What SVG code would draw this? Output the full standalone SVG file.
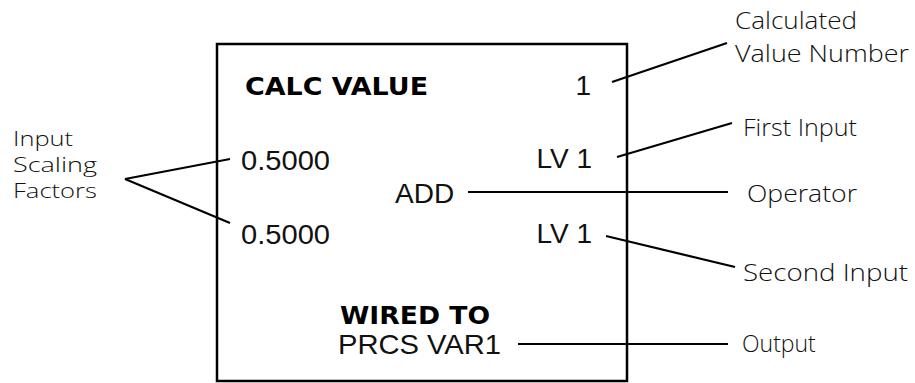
<svg xmlns="http://www.w3.org/2000/svg" width="915" height="383" viewBox="0 0 915 383">
<style>
.box{fill:none;stroke:#000;stroke-width:2.5}
.ln{stroke:#000;stroke-width:2.2;fill:none;stroke-linecap:butt}
.t{font-family:"Liberation Sans",Arial,sans-serif;font-size:28px;fill:#111}
.b{font-family:"DejaVu Sans","Liberation Sans",sans-serif;font-weight:bold;font-size:25px;fill:#000}
.l{font-family:"Open Sans","DejaVu Sans",sans-serif;font-weight:300;font-size:23px;fill:#111}
.s{font-size:21px}
</style>
<rect width="915" height="383" fill="#fff"/>
<g id="display">
<rect class="box" x="217" y="44" width="410" height="337"/>
<text class="b" x="245" y="95" textLength="183" lengthAdjust="spacingAndGlyphs">CALC VALUE</text>
<text class="t" x="591" y="95" text-anchor="end">1</text>
<text class="t" x="241" y="170" textLength="89" lengthAdjust="spacingAndGlyphs">0.5000</text>
<text class="t" x="592" y="168" text-anchor="end">LV 1</text>
<text class="t" x="395" y="203">ADD</text>
<text class="t" x="241" y="244" textLength="89" lengthAdjust="spacingAndGlyphs">0.5000</text>
<text class="t" x="592" y="243" text-anchor="end">LV 1</text>
<text class="b" x="340" y="324" textLength="150" lengthAdjust="spacingAndGlyphs">WIRED TO</text>
<text class="t" x="338" y="354" textLength="163" lengthAdjust="spacingAndGlyphs">PRCS VAR1</text>
</g>
<g id="label-calc-number">
<text class="l" x="735" y="29" textLength="122" lengthAdjust="spacingAndGlyphs">Calculated</text>
<text class="l" x="735" y="62" textLength="174" lengthAdjust="spacingAndGlyphs">Value Number</text>
</g>
<g id="label-first-input"><text class="l" x="743" y="136" textLength="114" lengthAdjust="spacingAndGlyphs">First Input</text></g>
<g id="label-operator"><text class="l" x="747" y="202" textLength="110" lengthAdjust="spacingAndGlyphs">Operator</text></g>
<g id="label-second-input"><text class="l" x="743" y="281" textLength="165" lengthAdjust="spacingAndGlyphs">Second Input</text></g>
<g id="label-output"><text class="l" x="742" y="352">Output</text></g>
<g id="label-scaling">
<text class="l s" x="13" y="146" textLength="60" lengthAdjust="spacingAndGlyphs">Input</text>
<text class="l s" x="13" y="172" textLength="84" lengthAdjust="spacingAndGlyphs">Scaling</text>
<text class="l s" x="13" y="198" textLength="84" lengthAdjust="spacingAndGlyphs">Factors</text>
</g>
<g id="connectors">
<line class="ln" x1="612" y1="82" x2="727" y2="43"/>
<line class="ln" x1="617" y1="157" x2="732" y2="123"/>
<line class="ln" x1="468" y1="192" x2="728" y2="192"/>
<line class="ln" x1="606" y1="236" x2="735" y2="267"/>
<line class="ln" x1="518" y1="344" x2="728" y2="344"/>
<line class="ln" x1="125" y1="179" x2="230" y2="159"/>
<line class="ln" x1="125" y1="179" x2="230" y2="223"/>
</g>
</svg>
